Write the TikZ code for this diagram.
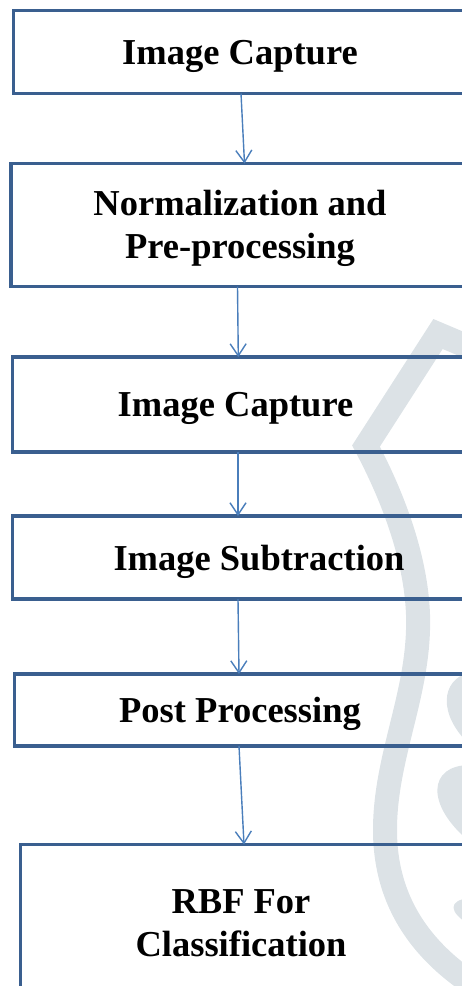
\documentclass[tikz,border=0pt]{standalone}
\usepackage{fontspec}
\setmainfont{Liberation Serif}
\usetikzlibrary{arrows.meta}
\definecolor{boxblue}{RGB}{58,95,143}
\definecolor{arrblue}{RGB}{74,126,187}
\definecolor{wmgray}{RGB}{220,226,230}
\begin{document}
\begin{tikzpicture}[x=1pt,y=-1pt,
  stepbox/.style={draw=boxblue,line width=3.4pt,rectangle,outer sep=0pt,inner sep=0pt,anchor=north west},
  lbl/.style={font=\bfseries\fontsize{36.5}{43}\selectfont,align=center,inner sep=0pt},
  arr/.style={draw=arrblue,line width=1.4pt,-{Straight Barb[length=12pt,width=16pt,line width=1.4pt]}}]
\useasboundingbox (0,0) rectangle (462,986);
% watermark
\draw[wmgray,line width=24pt,line join=miter,miter limit=20]
  (490,356) -- (438,334) -- (366,446)
  .. controls (400,510) and (420,575) .. (418,630)
  .. controls (416,700) and (385,760) .. (385,830)
  .. controls (385,900) and (420,955) .. (490,995);
\fill[wmgray] (470,672) .. controls (440,680) and (438,715) .. (470,745) -- cycle;
\fill[wmgray] (470,765) .. controls (428,765) and (425,805) .. (470,842) -- cycle;
\fill[wmgray] (470,898) .. controls (448,900) and (448,912) .. (470,925) -- cycle;
% boxes
\node[stepbox,minimum width=466pt,minimum height=83pt] (b1) at (13.5,10.5) {};
\node[stepbox,minimum width=469pt,minimum height=123pt] (b2) at (11,163.5) {};
\node[stepbox,minimum width=467pt,minimum height=95pt] (b3) at (12.5,357) {};
\node[stepbox,minimum width=467pt,minimum height=83pt] (b4) at (12.5,516) {};
\node[stepbox,minimum width=465pt,minimum height=72pt] (b5) at (14.5,674) {};
\node[stepbox,minimum width=460pt,minimum height=160pt] (b6) at (20.5,844.5) {};
% labels
\node[lbl] (t1) at (240,56) {Image Capture};
\node[lbl] (t2) at (240,228.5) {Normalization and\\Pre-processing};
\node[lbl] (t3) at (235.5,408.5) {Image Capture};
\node[lbl] (t4) at (259,561.5) {Image Subtraction};
\node[lbl] (t5) at (240,714) {Post Processing};
\node[lbl] (t6) at (241,923.5) {RBF For\\Classification};
% arrows
\draw[arr] ([xshift=227.5pt]b1.south west) -- ([xshift=233.5pt]b2.north west);
\draw[arr] ([xshift=226.5pt]b2.south west) -- ([xshift=225.8pt]b3.north west);
\draw[arr] ([xshift=225.5pt]b3.south west) -- ([xshift=225.5pt]b4.north west);
\draw[arr] ([xshift=225.5pt]b4.south west) -- ([xshift=224.5pt]b5.north west);
\draw[arr] ([xshift=224.5pt]b5.south west) -- ([xshift=223.5pt]b6.north west);
\end{tikzpicture}
\end{document}
